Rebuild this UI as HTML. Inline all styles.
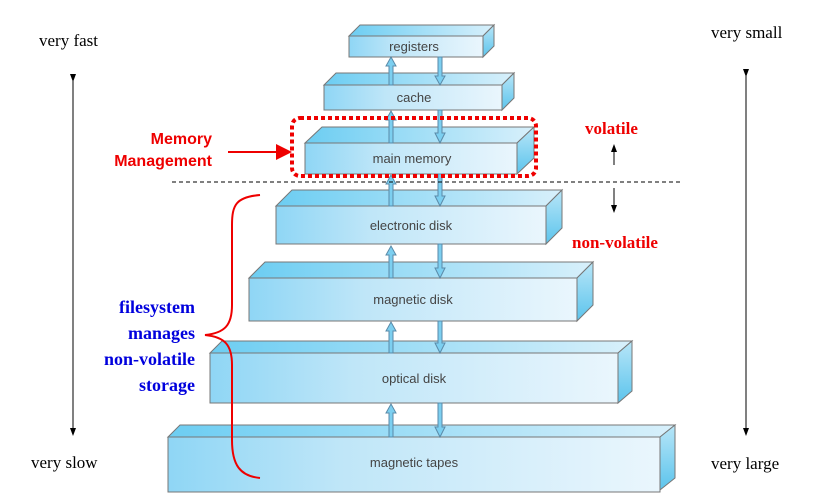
<!DOCTYPE html>
<html><head><style>
body{margin:0;background:#fff;width:817px;height:496px;overflow:hidden}
</style></head><body>
<svg width="817" height="496" xmlns="http://www.w3.org/2000/svg" style="position:absolute;left:0;top:0">
<defs>
<linearGradient id="f" x1="0" x2="1" y1="0" y2="0">
<stop offset="0" stop-color="#8fd6f5"/><stop offset="0.35" stop-color="#bfe6f8"/><stop offset="1" stop-color="#eaf6fd"/></linearGradient>
<linearGradient id="t" x1="0" x2="1" y1="0" y2="0">
<stop offset="0" stop-color="#6ccdf2"/><stop offset="1" stop-color="#d8f0fb"/></linearGradient>
<linearGradient id="s" x1="0" x2="0" y1="0" y2="1">
<stop offset="0" stop-color="#b8e6f8"/><stop offset="1" stop-color="#5cc4ec"/></linearGradient>
<marker id="ah" markerWidth="8" markerHeight="8" refX="4" refY="4" orient="auto"><path d="M0,1 L8,4 L0,7 z" fill="#000"/></marker>
<marker id="rh" markerWidth="8" markerHeight="8" refX="6" refY="4" orient="auto"><path d="M0,0 L8,4 L0,8 z" fill="#e00"/></marker>
</defs>
<g stroke="#777" stroke-width="1" font-family="Liberation Sans, sans-serif" font-size="13" fill="#333">
<!-- boxes: x1,x2,y1,y2,d -->
<g id="b1"><polygon points="349,36 360,25 494,25 483,36" fill="url(#t)"/><polygon points="483,36 494,25 494,46 483,57" fill="url(#s)"/><rect x="349" y="36" width="134" height="21" fill="url(#f)"/></g>
<polygon points="324,85 336,73 514,73 502,85" fill="url(#t)"/><polygon points="502,85 514,73 514,98 502,110" fill="url(#s)"/><rect x="324" y="85" width="178" height="25" fill="url(#f)"/>
<polygon points="305,143 322,127 534,127 517,143" fill="url(#t)"/><polygon points="517,143 534,127 534,158 517,174" fill="url(#s)"/><rect x="305" y="143" width="212" height="31" fill="url(#f)"/>
<polygon points="276,206 292,190 562,190 546,206" fill="url(#t)"/><polygon points="546,206 562,190 562,228 546,244" fill="url(#s)"/><rect x="276" y="206" width="270" height="38" fill="url(#f)"/>
<polygon points="249,278 265,262 593,262 577,278" fill="url(#t)"/><polygon points="577,278 593,262 593,305 577,321" fill="url(#s)"/><rect x="249" y="278" width="328" height="43" fill="url(#f)"/>
<polygon points="210,353 222,341 632,341 618,353" fill="url(#t)"/><polygon points="618,353 632,341 632,391 618,403" fill="url(#s)"/><rect x="210" y="353" width="408" height="50" fill="url(#f)"/>
<polygon points="168,437 180,425 675,425 660,437" fill="url(#t)"/><polygon points="660,437 675,425 675,478 660,490" fill="url(#s)"/><rect x="168" y="437" width="492" height="55" fill="url(#f)"/>
</g>
<g font-family="Liberation Sans, sans-serif" font-size="13" fill="#444" text-anchor="middle">
<text x="414" y="51">registers</text><text x="414" y="102">cache</text><text x="412" y="163">main memory</text>
<text x="411" y="230">electronic disk</text><text x="413" y="304">magnetic disk</text><text x="414" y="383">optical disk</text><text x="414" y="467">magnetic tapes</text>
</g>
<!-- arrows -->
<g fill="#7ccff0" stroke="#5a8aa8" stroke-width="1">
<path d="M389,85 V66 H386 L391,57 L396,66 H393 V85 Z"/><path d="M438,57 V76 H435 L440,85 L445,76 H442 V57 Z"/>
<path d="M389,143 V120 H386 L391,111 L396,120 H393 V143 Z"/><path d="M438,110 V133 H435 L440,143 L445,133 H442 V110 Z"/>
<path d="M389,206 V184 H386 L391,175 L396,184 H393 V206 Z"/><path d="M438,174 V196 H435 L440,206 L445,196 H442 V174 Z"/>
<path d="M389,278 V255 H386 L391,246 L396,255 H393 V278 Z"/><path d="M438,244 V268 H435 L440,278 L445,268 H442 V244 Z"/>
<path d="M389,353 V331 H386 L391,322 L396,331 H393 V353 Z"/><path d="M438,321 V343 H435 L440,353 L445,343 H442 V321 Z"/>
<path d="M389,437 V413 H386 L391,404 L396,413 H393 V437 Z"/><path d="M438,403 V427 H435 L440,437 L445,427 H442 V403 Z"/>
</g>
<rect x="292" y="118" width="244" height="58" rx="8" fill="none" stroke="#e00" stroke-width="4" stroke-dasharray="4,3"/>
<line x1="172" y1="182" x2="680" y2="182" stroke="#000" stroke-dasharray="4,3"/>
<line x1="73" y1="78" x2="73" y2="432" stroke="#000" marker-start="url(#ah)" marker-end="url(#ah)"/>
<line x1="746" y1="73" x2="746" y2="432" stroke="#000" marker-start="url(#ah)" marker-end="url(#ah)"/>
<line x1="614" y1="165" x2="614" y2="148" stroke="#000" marker-end="url(#ah)"/>
<line x1="614" y1="188" x2="614" y2="209" stroke="#000" marker-end="url(#ah)"/>
<line x1="228" y1="152" x2="288" y2="152" stroke="#e00" stroke-width="2" marker-end="url(#rh)"/>
<path d="M260,195 C236,197 232,205 232,225 V305 C232,325 225,333 205,335 C225,337 232,345 232,365 V440 C232,465 240,476 260,478" fill="none" stroke="#e00" stroke-width="2"/>
<g font-family="Liberation Serif, serif" font-size="17" fill="#000">
<text x="39" y="46">very fast</text><text x="711" y="38">very small</text>
<text x="31" y="468">very slow</text><text x="711" y="469">very large</text>
</g>
<g font-family="Liberation Serif, serif" font-size="17" font-weight="bold" fill="#e00">
<text x="585" y="134">volatile</text><text x="572" y="248">non-volatile</text>
</g>
<g font-family="Liberation Sans, sans-serif" font-size="16" font-weight="bold" fill="#e00" text-anchor="end">
<text x="212" y="144">Memory</text><text x="212" y="166">Management</text>
</g>
<g font-family="Liberation Serif, serif" font-size="18" font-weight="bold" fill="#00d" text-anchor="end">
<text x="195" y="313">filesystem</text><text x="195" y="339">manages</text><text x="195" y="365">non-volatile</text><text x="195" y="391">storage</text>
</g>
</svg>
</body></html>
